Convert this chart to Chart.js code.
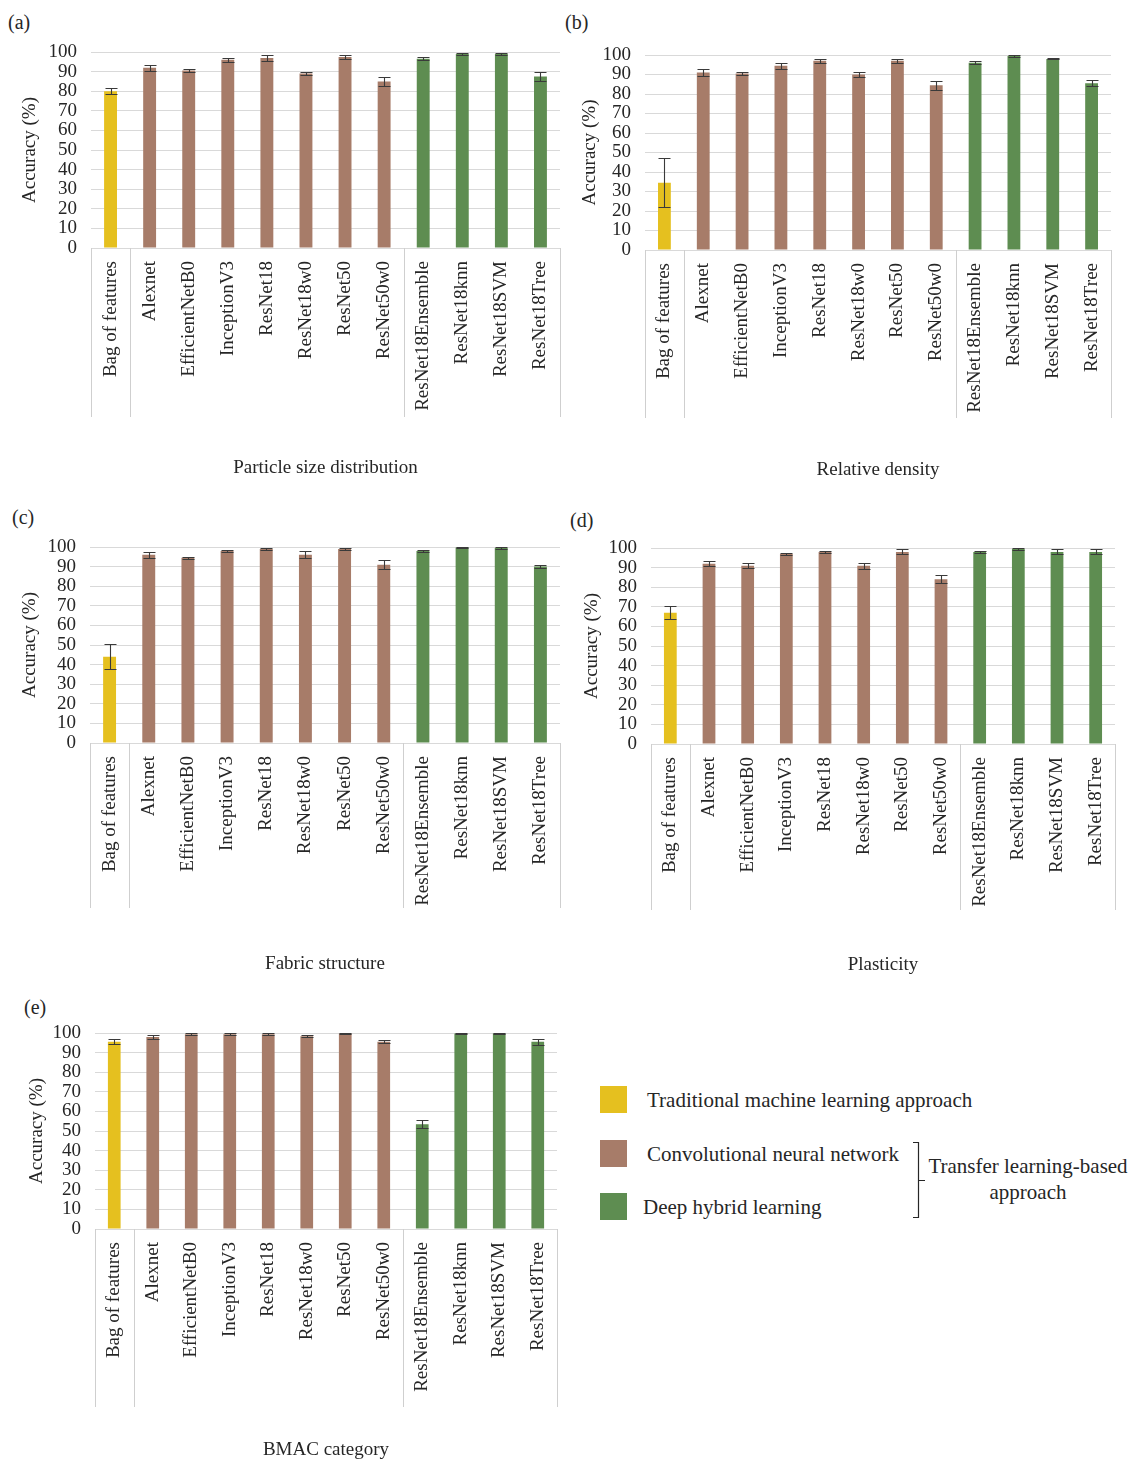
<!DOCTYPE html>
<html>
<head>
<meta charset="utf-8">
<title>Accuracy of classification approaches</title>
<script src="https://cdn.jsdelivr.net/npm/chart.js@4.4.1/dist/chart.umd.min.js"></script>
<style>
  html, body { margin: 0; padding: 0; background: #fff; }
  #page {
    position: relative; width: 1136px; height: 1463px; overflow: hidden;
    font-family: 'Liberation Serif', 'Times New Roman', serif; color: #262626;
  }
  canvas { position: absolute; }
  .tag { position: absolute; font-size: 20px; line-height: 20px; white-space: nowrap; }
  .swatch { position: absolute; width: 27px; height: 27px; }
  .ltext { position: absolute; font-size: 21px; line-height: 21px; white-space: nowrap; }
  .ctext { position: absolute; font-size: 21px; line-height: 21px; white-space: nowrap; transform: translateX(-50%); }
  svg { position: absolute; left: 0; top: 0; }
</style>
</head>
<body>
<div id="page">
  <div class="tag" style="left:8px; top:12px;">(a)</div>
  <div class="tag" style="left:565px; top:12px;">(b)</div>
  <div class="tag" style="left:12px; top:507px;">(c)</div>
  <div class="tag" style="left:570px; top:510px;">(d)</div>
  <div class="tag" style="left:24px; top:997px;">(e)</div>
  <div id="legend"></div>
  <svg width="1136" height="1463">
    <path d="M913 1142.5 H918.5 V1217.5 H913 M918.5 1180.5 H925" fill="none" stroke="#262626" stroke-width="1.2"/>
  </svg>
  <div class="ctext" style="left:1028px; top:1156px;">Transfer learning-based</div>
  <div class="ctext" style="left:1028px; top:1182px;">approach</div>
</div>
<script>
// ---- data ----
const models = [
  'Bag of features', 'Alexnet', 'EfficientNetB0', 'InceptionV3', 'ResNet18',
  'ResNet18w0', 'ResNet50', 'ResNet50w0', 'ResNet18Ensemble', 'ResNet18knn',
  'ResNet18SVM', 'ResNet18Tree'
];
// 0 = traditional ML, 1 = CNN, 2 = deep hybrid learning
const modelGroup = [0, 1, 1, 1, 1, 1, 1, 1, 2, 2, 2, 2];
const groupNames = [
  'Traditional machine learning approach',
  'Convolutional neural network',
  'Deep hybrid learning'
];
const groupColors = ['#E5C01F', '#A77C69', '#5E8D51'];

const particleSize    = [80, 92, 90.5, 96, 97, 89, 97.5, 85, 96.5, 99, 99, 87.5];
const particleSizeErr = [1.5, 1.5, 0.7, 1, 1.5, 0.7, 1, 2.4, 0.7, 0.3, 0.3, 2.5];

const relativeDensity    = [34.5, 91, 90.5, 94.5, 97, 90, 97, 84.5, 96, 99.5, 98, 85.5];
const relativeDensityErr = [12.5, 2, 1, 1.5, 1, 1.2, 1, 2.3, 0.8, 0.3, 0.3, 1.5];

const fabricStructure    = [44, 96, 94.5, 98, 99, 96, 99, 91, 98, 99.7, 99.5, 90];
const fabricStructureErr = [6.4, 1.5, 0.5, 0.5, 0.5, 1.8, 0.5, 2.4, 0.5, 0.3, 0.3, 0.8];

const plasticity    = [67, 92, 91, 97, 98, 91, 98, 84, 98, 99.5, 98, 98];
const plasticityErr = [3.2, 1.4, 1.2, 0.4, 0.5, 1.5, 1.3, 2, 0.4, 0.3, 1.3, 1.3];

const bmacCategory    = [95.5, 98, 99.3, 99.3, 99.3, 98.3, 99.8, 95.5, 53.5, 99.8, 99.8, 95.5];
const bmacCategoryErr = [1.2, 1, 0.5, 0.5, 0.5, 0.5, 0.3, 0.8, 2, 0.2, 0.2, 1.5];

const yTicksMax = 100;
const yTicksStep = 10;

// ---- style ----
const FONT = "'Liberation Serif', 'Times New Roman', serif";
const TEXT = '#262626';
const GRID = '#d9d9d9';
const TICK_SIZE = 19;
const LABEL_SIZE = 19;
const TITLE_SIZE = 19;
const TITLE_LINE = TITLE_SIZE * 1.2;
const TITLE_PAD = 4;
const Y_TICK_PAD = 14;
// must exceed half a tick label line plus the y tick padding
const PAD_TOP = 28, PAD_RIGHT = 20;

// error bars drawn over each bar
const errorBarPlugin = {
  id: 'errorBars',
  afterDatasetsDraw(chart, args, opts) {
    const ctx = chart.ctx;
    const y = chart.scales.y;
    chart.data.datasets.forEach((ds, di) => {
      const meta = chart.getDatasetMeta(di);
      meta.data.forEach((bar, i) => {
        const v = ds.data[i], e = ds.errors[i];
        const yHi = Math.round(y.getPixelForValue(v + e)) + 0.5;
        const yLo = Math.round(y.getPixelForValue(v - e)) + 0.5;
        const x = Math.round(bar.x) + 0.5;
        ctx.save();
        ctx.strokeStyle = opts.color;
        ctx.lineWidth = opts.width;
        ctx.beginPath();
        ctx.moveTo(x, yHi); ctx.lineTo(x, yLo);
        ctx.moveTo(x - opts.cap, yHi); ctx.lineTo(x + opts.cap, yHi);
        ctx.moveTo(x - opts.cap, yLo); ctx.lineTo(x + opts.cap, yLo);
        ctx.stroke();
        ctx.restore();
      });
    });
  }
};

// vertical lines boxing each approach group under the category axis
const groupSeparatorPlugin = {
  id: 'groupSeparators',
  afterDraw(chart, args, opts) {
    const ctx = chart.ctx;
    const x = chart.scales.x;
    const top = chart.chartArea.bottom;
    const bottom = top + opts.depth;
    const edges = [-0.5];
    for (let i = 1; i < modelGroup.length; i++) {
      if (modelGroup[i] !== modelGroup[i - 1]) edges.push(i - 0.5);
    }
    edges.push(modelGroup.length - 0.5);
    ctx.save();
    ctx.strokeStyle = opts.color;
    ctx.lineWidth = 1;
    ctx.beginPath();
    edges.forEach(v => {
      const px = Math.round(x.getPixelForValue(v)) + 0.5;
      ctx.moveTo(px, top);
      ctx.lineTo(px, bottom);
    });
    ctx.stroke();
    ctx.restore();
  }
};

// plot-area placement of each panel on the page
const panels = [
  { values: particleSize,    errors: particleSizeErr,    xTitle: 'Particle size distribution',
    geo: { l: 91,  r: 560,  t: 52,   b: 248,  sep: 417,  titleY: 468,  yTitleX: 30 } },
  { values: relativeDensity, errors: relativeDensityErr, xTitle: 'Relative density',
    geo: { l: 645, r: 1111, t: 55,   b: 250,  sep: 418,  titleY: 470,  yTitleX: 590 } },
  { values: fabricStructure, errors: fabricStructureErr, xTitle: 'Fabric structure',
    geo: { l: 90,  r: 560,  t: 547,  b: 743,  sep: 908,  titleY: 964,  yTitleX: 30 } },
  { values: plasticity,      errors: plasticityErr,      xTitle: 'Plasticity',
    geo: { l: 651, r: 1115, t: 548,  b: 744,  sep: 910,  titleY: 965,  yTitleX: 592 } },
  { values: bmacCategory,    errors: bmacCategoryErr,    xTitle: 'BMAC category',
    geo: { l: 95,  r: 557,  t: 1033, b: 1229, sep: 1407, titleY: 1450, yTitleX: 37 } }
];

const page = document.getElementById('page');

panels.forEach(p => {
  const g = p.geo;
  const cLeft = Math.round(g.yTitleX - TITLE_LINE / 2 - TITLE_PAD);
  const cTop = g.t - PAD_TOP;
  const cRight = g.r + PAD_RIGHT;
  const cBottom = Math.round(g.titleY + TITLE_LINE / 2 + TITLE_PAD);
  const yAxisWidth = g.l - cLeft;
  const xAxisHeight = cBottom - g.b;

  const canvas = document.createElement('canvas');
  canvas.width = cRight - cLeft;
  canvas.height = cBottom - cTop;
  canvas.style.left = cLeft + 'px';
  canvas.style.top = cTop + 'px';
  canvas.style.width = canvas.width + 'px';
  canvas.style.height = canvas.height + 'px';
  page.appendChild(canvas);

  new Chart(canvas, {
    type: 'bar',
    data: {
      labels: models,
      datasets: [{
        data: p.values,
        errors: p.errors,
        backgroundColor: models.map((_, i) => groupColors[modelGroup[i]]),
        borderWidth: 0,
        categoryPercentage: 1,
        barPercentage: 0.33
      }]
    },
    options: {
      responsive: false,
      animation: false,
      devicePixelRatio: 1,
      layout: { padding: { top: PAD_TOP, right: PAD_RIGHT, left: 0, bottom: 0 } },
      plugins: {
        legend: { display: false },
        tooltip: { enabled: false },
        errorBars: { color: '#3a3a3a', width: 1.1, cap: 6 },
        groupSeparators: { depth: g.sep - g.b, color: '#cfcfcf' }
      },
      scales: {
        x: {
          grid: { display: false, drawTicks: false },
          border: { display: true, color: GRID },
          ticks: {
            autoSkip: false, minRotation: 90, maxRotation: 90, padding: 13,
            color: TEXT, font: { family: FONT, size: LABEL_SIZE }
          },
          title: {
            display: true, text: p.xTitle, color: TEXT,
            font: { family: FONT, size: TITLE_SIZE },
            padding: { top: 0, bottom: TITLE_PAD }
          },
          afterFit(scale) { scale.height = xAxisHeight; }
        },
        y: {
          min: 0, max: yTicksMax,
          ticks: {
            stepSize: yTicksStep, autoSkip: false, padding: Y_TICK_PAD, color: TEXT,
            font: { family: FONT, size: TICK_SIZE }
          },
          grid: { color: GRID, drawTicks: false },
          border: { display: false },
          title: {
            display: true, text: 'Accuracy (%)', color: TEXT,
            font: { family: FONT, size: TITLE_SIZE },
            padding: { top: TITLE_PAD, bottom: 0 }
          },
          afterFit(scale) { scale.width = yAxisWidth; }
        }
      }
    },
    plugins: [errorBarPlugin, groupSeparatorPlugin]
  });
});

// legend for the three approach groups
const legend = document.getElementById('legend');
const legendRows = [
  { swatchTop: 1086, textLeft: 647, textTop: 1090 },
  { swatchTop: 1140, textLeft: 647, textTop: 1144 },
  { swatchTop: 1193, textLeft: 643, textTop: 1197 }
];
groupNames.forEach((name, i) => {
  const row = legendRows[i];
  const sw = document.createElement('div');
  sw.className = 'swatch';
  sw.style.left = '600px';
  sw.style.top = row.swatchTop + 'px';
  sw.style.background = groupColors[i];
  legend.appendChild(sw);
  const tx = document.createElement('div');
  tx.className = 'ltext';
  tx.style.left = row.textLeft + 'px';
  tx.style.top = row.textTop + 'px';
  tx.textContent = name;
  legend.appendChild(tx);
});
</script>
</body>
</html>
